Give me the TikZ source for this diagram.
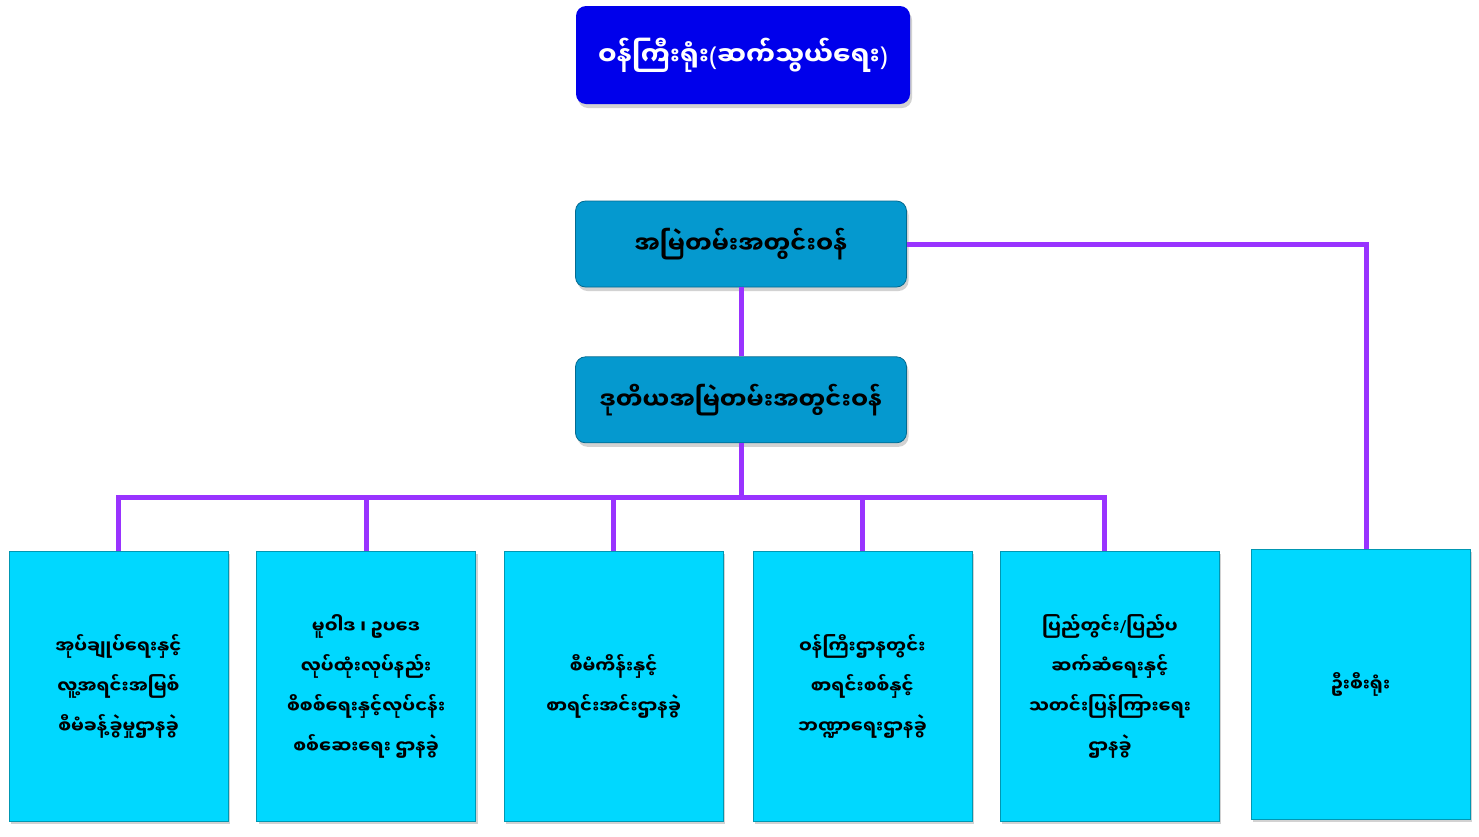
\documentclass[tikz,border=0pt]{standalone}
\usepackage{fontspec}
\newfontfamily\mmfont[Script=Myanmar]{Noto Sans Myanmar UI}
\newfontfamily\latfont{Noto Sans}
\newcommand{\lat}[1]{{\latfont #1}}
\usepackage{xcolor}
\usetikzlibrary{positioning, shadows}

\definecolor{ministerblue}{RGB}{0,0,235}
\definecolor{secblue}{RGB}{5,153,207}
\definecolor{deptcyan}{RGB}{0,216,255}
\definecolor{linkpurple}{RGB}{153,51,255}

\tikzset{
    topbox/.style={rectangle, rounded corners=10pt, minimum width=334pt, minimum height=98pt,
        fill=ministerblue, text=white, font=\mmfont\bfseries\fontsize{26}{30}\selectfont,
        drop shadow={opacity=0.35, shadow xshift=2pt, shadow yshift=-4pt}},
    secbox/.style={rectangle, rounded corners=10pt, minimum width=331pt, minimum height=86pt,
        fill=secblue, draw=secblue!70!black, line width=0.8pt, font=\mmfont\bfseries\fontsize{24}{30}\selectfont,
        drop shadow={opacity=0.35, shadow xshift=2pt, shadow yshift=-4pt}},
    deptbox/.style={rectangle, minimum width=219pt, minimum height=270pt, align=center,
        fill=deptcyan, draw=deptcyan!70!black, line width=0.6pt, font=\mmfont\bfseries\fontsize{18}{40}\selectfont,
        drop shadow={opacity=0.35, shadow xshift=2pt, shadow yshift=-3pt}},
    link/.style={draw=linkpurple, line width=5pt}
}

\begin{document}
\begin{tikzpicture}[x=1pt, y=-1pt]
    \fill[white] (0,0) rectangle (1479,836);
    \useasboundingbox (0,0) rectangle (1479,836);

    \node[topbox] (minister) at (743,55) {ဝန်ကြီးရုံး\lat{(}ဆက်သွယ်ရေး\lat{)}};
    \node[secbox] (permsec) at (741,244) {အမြဲတမ်းအတွင်းဝန်};
    \node[secbox, below=69pt of permsec] (deputy) {ဒုတိယအမြဲတမ်းအတွင်းဝန်};

    \node[deptbox] (dept1) at (118.5,686) {အုပ်ချုပ်ရေးနှင့်\\လူ့အရင်းအမြစ်\\စီမံခန့်ခွဲမှုဌာနခွဲ};
    \node[deptbox, right=28pt of dept1] (dept2) {မူဝါဒ ၊ ဥပဒေ\\လုပ်ထုံးလုပ်နည်း\\စိစစ်ရေးနှင့်လုပ်ငန်း\\စစ်ဆေးရေး ဌာနခွဲ};
    \node[deptbox, right=28pt of dept2] (dept3) {စီမံကိန်းနှင့်\\စာရင်းအင်းဌာနခွဲ};
    \node[deptbox, right=29pt of dept3] (dept4) {ဝန်ကြီးဌာနတွင်း\\စာရင်းစစ်နှင့်\\ဘဏ္ဍာရေးဌာနခွဲ};
    \node[deptbox, right=28pt of dept4] (dept5) {ပြည်တွင်း\lat{/}ပြည်ပ\\ဆက်ဆံရေးနှင့်\\သတင်းပြန်ကြားရေး\\ဌာနခွဲ};
    \node[deptbox, right=31pt of dept5, yshift=2pt] (office) {ဦးစီးရုံး};

    % connectors
    \coordinate (bus) at (741,497);
    \draw[link] (permsec.south) -- (deputy.north);
    \draw[link] (permsec.east) -| ([xshift=6pt]office.north);
    \draw[link] (deputy.south) -- (bus);
    \draw[link] (dept1.north) |- (bus) -| ([xshift=-5pt]dept5.north);
    \draw[link] (dept2.north) -- (dept2.north |- bus);
    \draw[link] (dept3.north) -- (dept3.north |- bus);
    \draw[link] (dept4.north) -- (dept4.north |- bus);
\end{tikzpicture}
\end{document}
